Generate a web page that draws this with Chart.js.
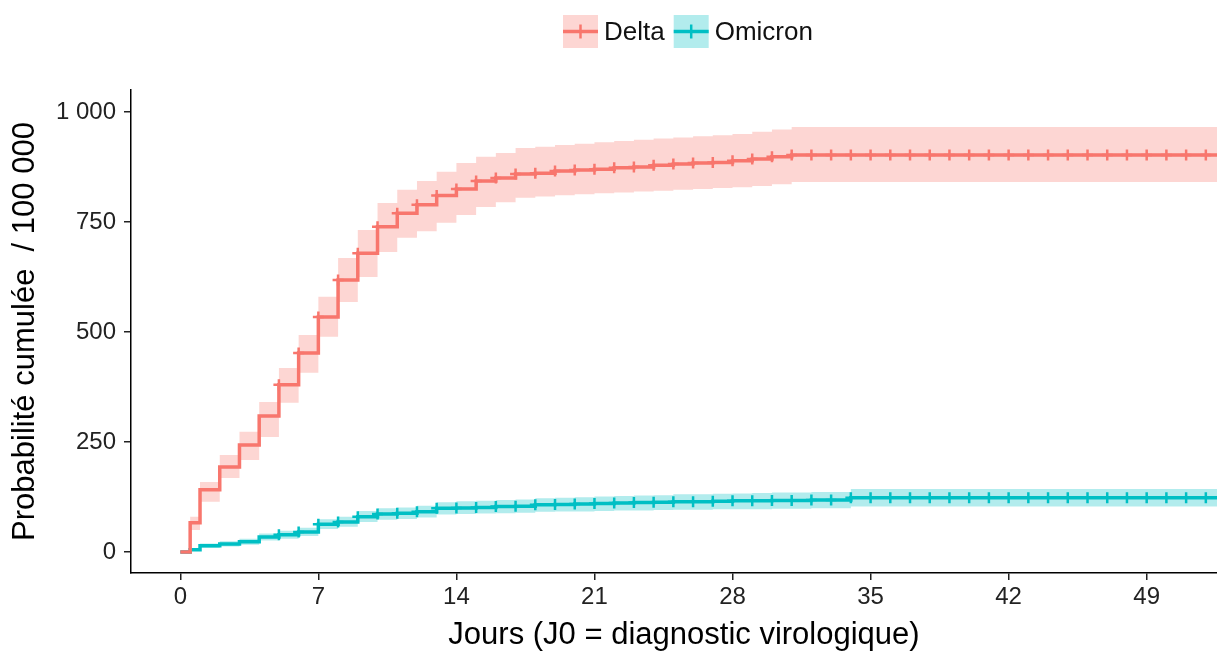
<!DOCTYPE html>
<html>
<head>
<meta charset="utf-8">
<script src="https://cdn.jsdelivr.net/npm/chart.js@4"></script>
<style>
  html, body { margin: 0; padding: 0; background: #fff; overflow: hidden; }
  /* the source figure is cropped on the right: the panel runs past the window */
  #wrap { width: 1245px; height: 651px; position: relative; }
</style>
</head>
<body>
<div id="wrap"><canvas id="km"></canvas></div>
<script>
// days since virological diagnosis (first step at half a day)
const days = [0, 0.5, 1, 2, 3, 4, 5, 6, 7, 8, 9, 10, 11, 12, 13, 14, 15, 16, 17, 18, 19, 20,
  21, 22, 23, 24, 25, 26, 27, 28, 29, 30, 31, 32, 33, 34, 35, 36, 37, 38, 39, 40, 41, 42,
  43, 44, 45, 46, 47, 48, 49, 50, 51, 52, 53];

const deltaEst = [0, 66, 141, 193, 243, 309, 380, 452, 534, 618, 679, 739, 770, 789, 810, 825,
  843, 850, 859, 861, 866, 868, 870, 873, 875, 879, 882, 884, 885, 889, 893, 898, 902, 902, 902,
  902, 902, 902, 902, 902, 902, 902, 902, 902, 902, 902, 902, 902, 902, 902, 902, 902, 902, 902, 902];
const deltaLow = [0, 50, 114, 168, 209, 261, 339, 407, 489, 568, 625, 682, 714, 729, 748, 766,
  784, 795, 805, 808, 811, 813, 815, 817, 819, 821, 823, 825, 827, 829, 832, 836, 841, 841, 841,
  841, 841, 841, 841, 841, 841, 841, 841, 841, 841, 841, 841, 841, 841, 841, 841, 841, 841, 841, 841];
const deltaHigh = [0, 80, 159, 220, 273, 341, 418, 493, 580, 668, 732, 793, 823, 843, 864, 884,
  898, 907, 918, 921, 925, 928, 931, 934, 937, 940, 942, 945, 947, 950, 955, 960, 966, 966, 966,
  966, 966, 966, 966, 966, 966, 966, 966, 966, 966, 966, 966, 966, 966, 966, 966, 966, 966, 966, 966];

const omicronEst = [0, 5, 14, 18, 23, 34, 39, 45, 63, 68, 80, 86, 88, 91, 99, 100, 101, 103, 104,
  107, 108, 109, 110, 111, 112, 113, 114, 114, 115, 116, 116, 117, 117, 118, 118, 123, 123, 123,
  123, 123, 123, 123, 123, 123, 123, 123, 123, 123, 123, 123, 123, 123, 123, 123, 123];
const omicronLow = [0, 2, 9, 12, 16, 26, 30, 36, 52, 57, 68, 73, 75, 78, 85, 86, 87, 88, 89, 91,
  92, 92, 93, 94, 94, 95, 96, 96, 97, 97, 97, 98, 98, 99, 99, 103, 103, 103, 103, 103, 103, 103,
  103, 103, 103, 103, 103, 103, 103, 103, 103, 103, 103, 103, 103];
const omicronHigh = [0, 9, 19, 24, 30, 42, 48, 55, 74, 80, 93, 99, 101, 105, 113, 115, 116, 118,
  119, 122, 123, 124, 126, 127, 128, 129, 131, 131, 132, 133, 134, 135, 135, 136, 136, 143, 143,
  143, 143, 143, 143, 143, 143, 143, 143, 143, 143, 143, 143, 143, 143, 143, 143, 143, 143];

const xTicks = [0, 7, 14, 21, 28, 35, 42, 49];
const yTicks = [0, 250, 500, 750, 1000];
const yTickLabels = ['0', '250', '500', '750', '1 000'];

const RED = '#F8766D', RED_BAND = 'rgba(248,118,109,0.3)';
const CYAN = '#00BFC4', CYAN_BAND = 'rgba(0,191,196,0.3)';
const FONT = '"Liberation Sans", Arial, sans-serif';

const pts = arr => arr.map((v, i) => ({ x: days[i], y: v }));
const markerRadius = ctx => (days[ctx.dataIndex] >= 5 ? 5.5 : 0);

function lineSet(label, values, color, band) {
  return {
    label: label, data: pts(values), borderColor: color, backgroundColor: color,
    bandColor: band, borderWidth: 3.5, stepped: 'before', fill: false,
    pointStyle: 'cross', pointRadius: markerRadius, pointBorderWidth: 2.5,
    pointBorderColor: color, pointHoverRadius: 0
  };
}
function bandSet(values, color, fillTo) {
  return {
    data: pts(values), borderWidth: 0, borderColor: 'transparent', backgroundColor: color,
    stepped: 'before', pointRadius: 0, fill: fillTo === undefined ? false : fillTo, isBand: true
  };
}

// legend drawn like ggplot keys: light square, line and cross
const keyLegend = {
  id: 'keyLegend',
  afterDraw(chart) {
    const ctx = chart.ctx;
    const items = chart.data.datasets.filter(d => !d.isBand);
    ctx.save();
    ctx.font = '26px ' + FONT;
    ctx.textBaseline = 'middle';
    let x = 563;
    const top = 15, w = 35, h = 33, cy = top + h / 2;
    items.forEach(d => {
      ctx.fillStyle = d.bandColor;
      ctx.fillRect(x, top, w, h);
      ctx.strokeStyle = d.borderColor;
      ctx.lineWidth = 3.5;
      ctx.beginPath();
      ctx.moveTo(x, cy); ctx.lineTo(x + w, cy);
      ctx.stroke();
      ctx.lineWidth = 2.5;
      ctx.beginPath();
      ctx.moveTo(x + w / 2, cy - 7); ctx.lineTo(x + w / 2, cy + 7);
      ctx.stroke();
      ctx.fillStyle = '#111';
      ctx.fillText(d.label, x + w + 6, cy + 1);
      x += w + 6 + ctx.measureText(d.label).width + 9;
    });
    ctx.restore();
  }
};

new Chart(document.getElementById('km'), {
  type: 'line',
  data: {
    datasets: [
      lineSet('Delta', deltaEst, RED, RED_BAND),
      lineSet('Omicron', omicronEst, CYAN, CYAN_BAND),
      bandSet(deltaLow, RED_BAND),
      bandSet(deltaHigh, RED_BAND, 2),
      bandSet(omicronLow, CYAN_BAND),
      bandSet(omicronHigh, CYAN_BAND, 4)
    ]
  },
  options: {
    animation: false,
    responsive: true,
    maintainAspectRatio: false,
    layout: { padding: { top: 90, left: 0, right: 0, bottom: 0 } },
    plugins: {
      legend: { display: false },
      tooltip: { enabled: false }
    },
    scales: {
      x: {
        type: 'linear',
        min: -2.5,
        max: 53.58,
        afterBuildTicks: s => { s.ticks = xTicks.map(v => ({ value: v })); },
        afterFit: s => { s.height = 78; },
        ticks: { color: '#222', font: { family: FONT, size: 24 }, padding: 3, maxRotation: 0 },
        grid: { drawOnChartArea: false, drawTicks: true, tickLength: 7, color: '#222', lineWidth: 1.5 },
        border: { display: true, color: '#000', width: 1.5 },
        title: {
          display: true, text: 'Jours (J0 = diagnostic virologique)', color: '#000',
          font: { family: FONT, size: 31, lineHeight: 1 }, padding: { top: 0, bottom: 0 }
        }
      },
      y: {
        type: 'linear',
        min: -48,
        max: 1050,
        afterBuildTicks: s => { s.ticks = yTicks.map(v => ({ value: v })); },
        afterFit: s => { s.width = 131; },
        ticks: {
          color: '#222', font: { family: FONT, size: 24 }, padding: 8,
          callback: v => yTickLabels[yTicks.indexOf(v)]
        },
        grid: { drawOnChartArea: false, drawTicks: true, tickLength: 7, color: '#222', lineWidth: 1.5 },
        border: { display: true, color: '#000', width: 1.5 },
        title: {
          display: true, text: 'Probabilité cumulée  / 100 000', color: '#000',
          font: { family: FONT, size: 31, lineHeight: 1 }, padding: { top: 10, bottom: 0 }
        }
      }
    }
  },
  plugins: [keyLegend]
});
</script>
</body>
</html>
